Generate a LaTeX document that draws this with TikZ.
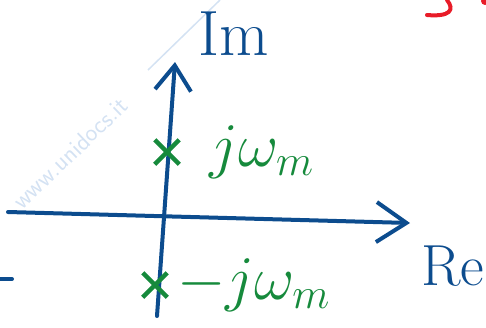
\documentclass[tikz,border=0pt]{standalone}
\usepackage{amssymb,amsmath}
\usepackage{tikz}
\usetikzlibrary{arrows.meta,positioning,shapes.misc}

\definecolor{inkblue}{RGB}{12,76,142}
\definecolor{inkgreen}{RGB}{22,138,60}
\definecolor{inkred}{RGB}{232,28,40}
\definecolor{wmark}{RGB}{212,226,243}

\newcommand{\bigmath}[1]{\scalebox{2.5}{$#1$}}

\begin{document}
\begin{tikzpicture}[x=1pt,y=-1pt,
    axis/.style={draw=inkblue,line width=4pt,line cap=round,line join=round},
    pole/.style={cross out,draw=inkgreen,line width=4.5pt,minimum size=20pt,inner sep=0pt},
    lbl/.style={inner sep=0pt,font=\fontsize{24}{28}\selectfont}]

\useasboundingbox (0,0) rectangle (486,327);
\clip (0,0) rectangle (486,327);

% watermark
\node[wmark,rotate=44,font=\sffamily\fontsize{20}{24}\selectfont] (wm) at (70,153) {\scalebox{1.25}{www.unidocs.it}};
\draw[wmark,line width=1.5pt] (148,70) -- (220,0);

\coordinate (xl) at (8,212);
\coordinate (xr) at (410,223);
\coordinate (yb) at (157,316);
\coordinate (yt) at (175,62);

\draw[axis,-{Straight Barb[length=30pt,width=40pt,line width=4pt]}] (xl) -- (xr);
\draw[axis,-{Straight Barb[length=25pt,width=36pt,line width=4pt]}] (yb) -- (yt);

\node[pole] (p1) at (167,152) {};
\node[pole] (p2) at (155,285) {};

\node[lbl,inkgreen,right=30pt of p1] (jw) {\bigmath{j\omega_m}};
\node[lbl,inkgreen,right=10pt of p2] (mjw) {\bigmath{-j\omega_m}};

\node[lbl,inkblue,font=\fontsize{64}{70}\selectfont] (im) at (234,34) {Im};
\node[lbl,inkblue,font=\fontsize{58}{64}\selectfont] (re) at (453,266) {Re};

% stray marks
\coordinate (d1) at (0,279);
\coordinate (d2) at (12,279);
\draw[axis] (d1) -- (d2);
\draw[inkred,line width=4pt,line cap=round] (447,0) .. controls (455,10) and (450,17) .. (427,15);
\fill[inkred] (485,1) circle (4);
\end{tikzpicture}
\end{document}
